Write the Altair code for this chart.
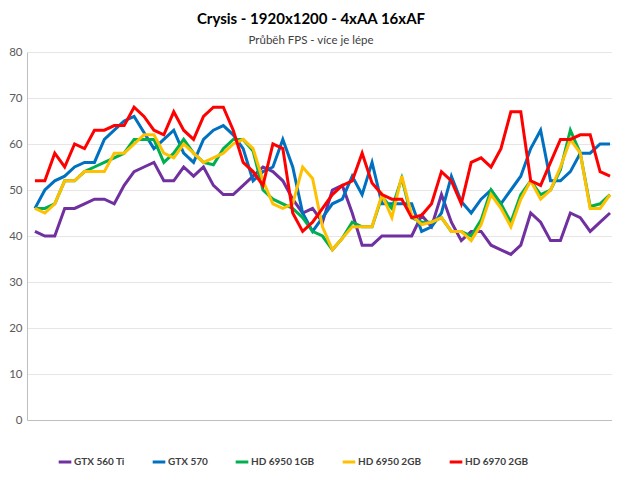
import altair as alt
import pandas as pd

series_names = ["GTX 560 Ti", "GTX 570", "HD 6950 1GB", "HD 6950 2GB", "HD 6970 2GB"]
series_colors = ["#7030a0", "#0070c0", "#00b050", "#ffc000", "#ff0000"]
y_ticks = [0, 10, 20, 30, 40, 50, 60, 70, 80]

gtx_560_ti = [41, 40, 40, 46, 46, 47, 48, 48, 47, 51, 54, 55, 56, 52, 52,
              55, 53, 55, 51, 49, 49, 51, 53, 55, 54, 52, 48, 45, 46,
              43, 50, 51, 45, 38, 38, 40, 40, 40, 40, 44.5, 42, 49, 43, 39,
              41, 41, 38, 37, 36, 38, 45, 43, 39, 39, 45, 44, 41, 43, 45]
gtx_570 = [46, 50, 52, 53, 55, 56, 56, 61, 63, 65, 66, 62.5, 59, 61, 63,
           58, 56, 61, 63, 64, 62, 59, 52, 54, 55, 61, 55, 45, 41,
           44, 47, 48, 53, 49, 56, 47, 47, 47, 47, 41, 42, 45, 53, 47.5,
           45, 48, 50, 47, 50, 53, 59, 63, 52, 52, 54, 58, 58, 60, 60]
hd_6950_1gb = [46, 46, 47, 52, 52, 54, 55, 56, 57, 58, 61, 61, 61, 56, 58,
               61, 58, 56, 55.5, 59, 61, 61, 58.5, 50, 48, 47, 46, 44, 41,
               40, 37, 39.5, 43, 42, 42, 48.6, 46, 52.6, 44, 43, 43, 44, 41, 41,
               40, 43.5, 50, 47, 43, 49, 52, 49, 50, 54.4, 63, 58, 46.4, 47, 49]
hd_6950_2gb = [46, 45, 47, 52, 52, 54, 54, 54, 58, 58, 60, 62, 62, 58, 57,
               60, 58, 56, 57, 58, 60, 61, 59, 52, 47, 46, 47, 55, 52.5,
               42, 37, 39.5, 42, 42, 42, 49, 44, 53, 44.5, 42.5, 43, 44, 41, 41,
               39, 42.5, 49, 46, 42, 48, 52, 48, 50, 55, 61, 58, 46, 46, 49]
hd_6970_2gb = [52, 52, 58, 55, 60, 59, 63, 63, 64, 64, 68, 66, 63, 62, 67,
               63, 61, 66, 68, 68, 63, 56, 54, 51, 60, 59, 45, 41, 43,
               46, 49, 51, 52, 58, 51.5, 49, 48, 48, 44, 44.5, 47, 54, 52, 47,
               56, 57, 55, 59, 67, 67, 52, 51, 56, 61, 61, 62, 62, 54, 53]

all_series = [gtx_560_ti, gtx_570, hd_6950_1gb, hd_6950_2gb, hd_6970_2gb]
rows = []
for name, vals in zip(series_names, all_series):
    for i, v in enumerate(vals):
        rows.append({"sample": i, "fps": v, "card": name})
df = pd.DataFrame(rows)
n = len(gtx_570)

chart = alt.Chart(df).mark_line(strokeWidth=3).encode(
    x=alt.X("sample:Q",
            scale=alt.Scale(domain=[-0.8, n - 0.8], nice=False, zero=False),
            axis=alt.Axis(labels=False, ticks=False, grid=False, title=None,
                          domainColor="#bfbfbf", domainWidth=1)),
    y=alt.Y("fps:Q",
            scale=alt.Scale(domain=[0, 80], nice=False),
            axis=alt.Axis(values=y_ticks, ticks=False, title=None, grid=True,
                          gridColor="#e6e6e6", gridWidth=1,
                          domainColor="#bfbfbf", domainWidth=1,
                          labelColor="#595959", labelFont="Lato",
                          labelFontSize=11.5, labelPadding=5)),
    color=alt.Color("card:N",
                    scale=alt.Scale(domain=series_names, range=series_colors),
                    legend=alt.Legend(orient="none", legendX=30, legendY=402,
                                      direction="horizontal", title=None,
                                      symbolType="stroke", symbolStrokeWidth=3,
                                      symbolSize=160, labelFont="Lato",
                                      labelFontWeight="bold", labelFontSize=10,
                                      labelColor="#404040", columnPadding=21,
                                      labelOffset=1, columns=5)),
).properties(
    width=585,
    height=368,
    autosize="none",
    padding={"left": 19, "top": 44, "right": 0, "bottom": 48},
    title=alt.TitleParams(
        "Crysis - 1920x1200 - 4xAA 16xAF",
        subtitle="Průběh FPS - více je lépe",
        font="Lato", fontSize=15, fontWeight="bold", color="#000000",
        subtitleFont="Lato", subtitleFontSize=11.5, subtitleColor="#404040",
        anchor="middle", dx=-8.5, offset=0, subtitlePadding=8),
).configure_view(stroke="transparent")

chart.save("out.html", embed_options={"renderer": "svg", "actions": False})
